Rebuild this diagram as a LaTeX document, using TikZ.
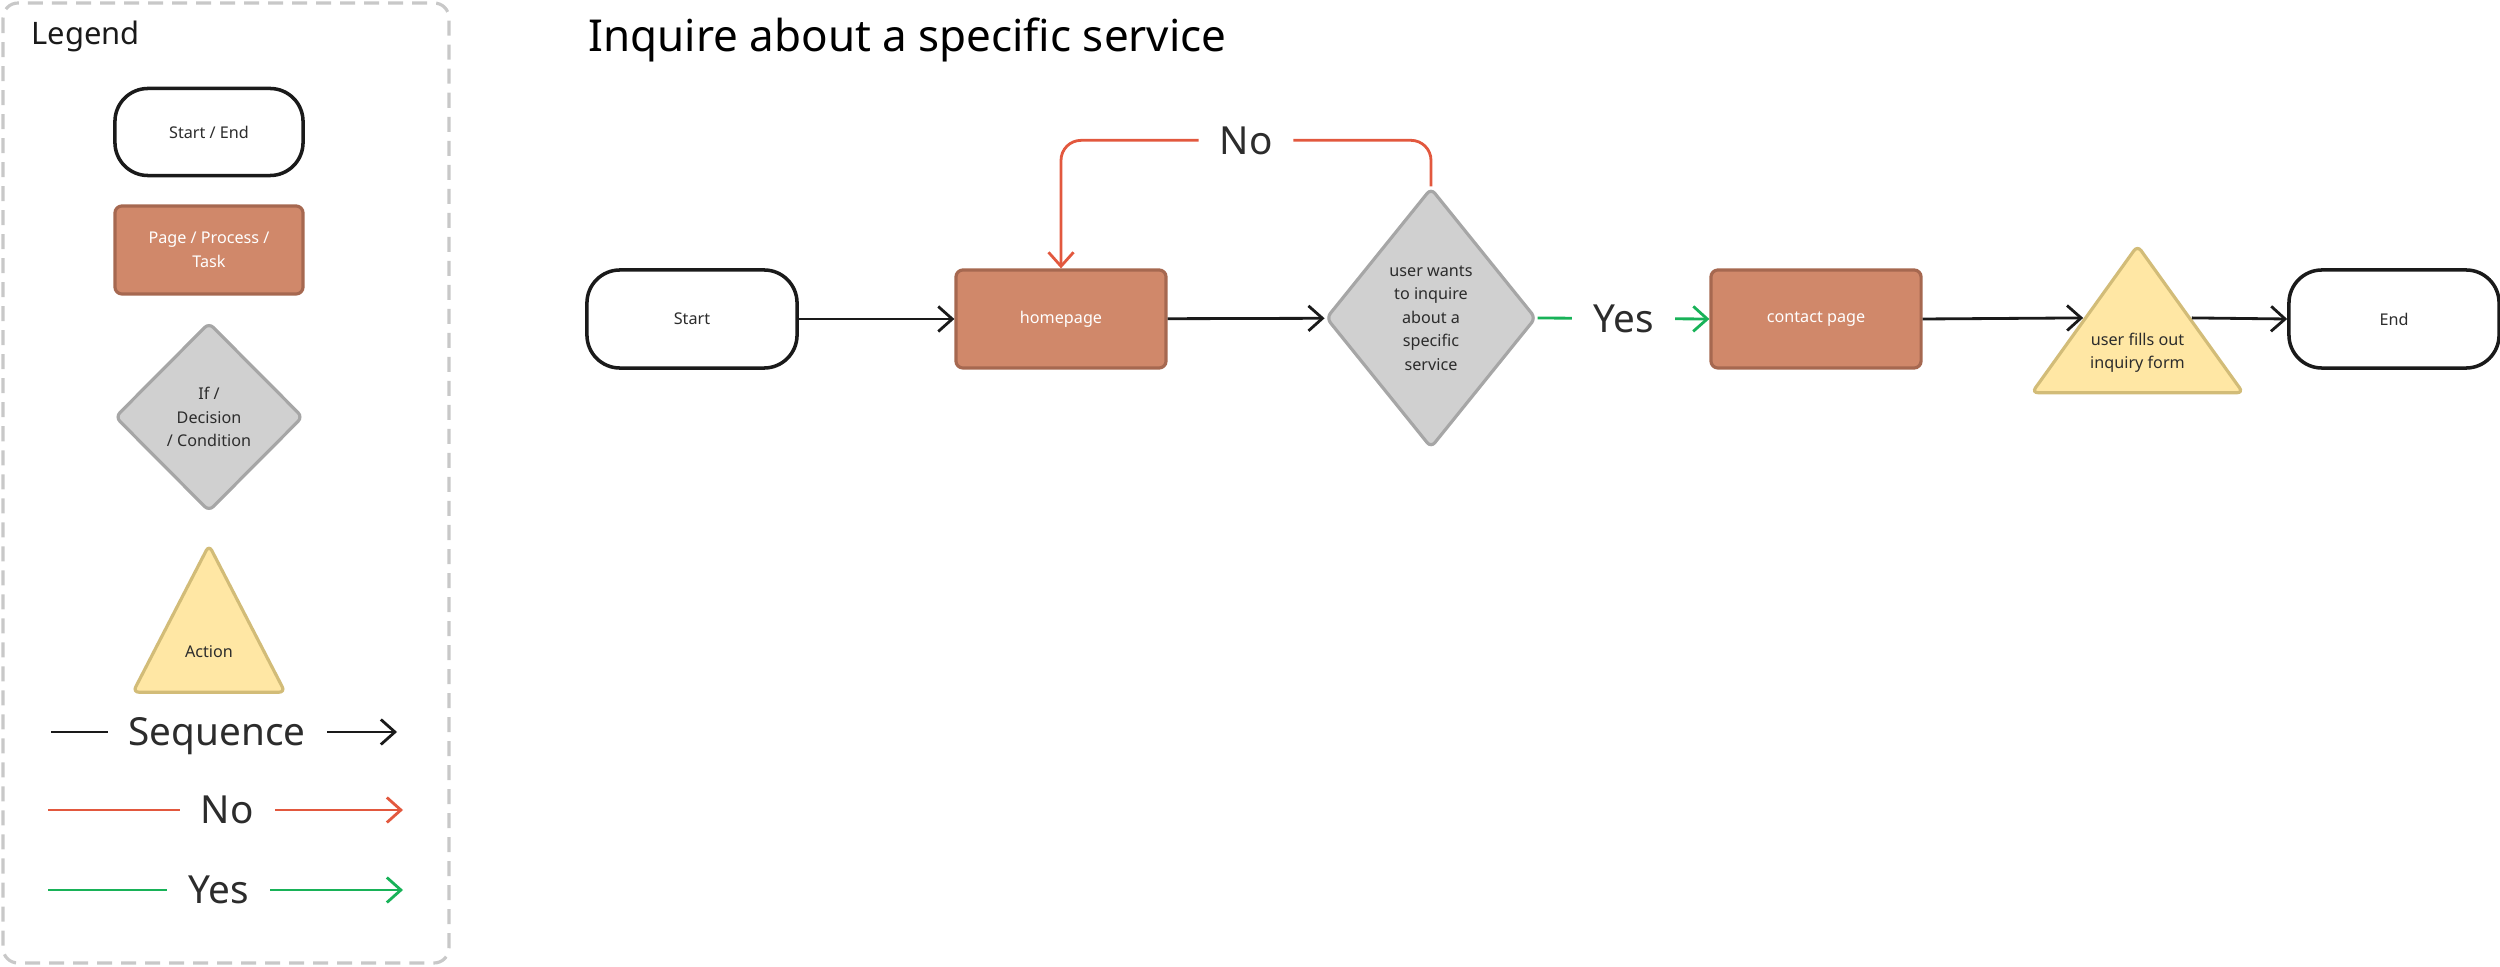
\documentclass[tikz,border=0pt]{standalone}
\usepackage{fontspec}
\setmainfont{Noto Sans}
\usetikzlibrary{arrows.meta,positioning,shapes.geometric}
\definecolor{ink}{RGB}{26,26,26}
\definecolor{textgray}{RGB}{44,44,44}
\definecolor{clay}{RGB}{208,136,106}
\definecolor{clayedge}{RGB}{166,104,80}
\definecolor{stone}{RGB}{208,208,208}
\definecolor{stoneedge}{RGB}{166,166,166}
\definecolor{sand}{RGB}{255,231,164}
\definecolor{sandedge}{RGB}{210,188,120}
\definecolor{rust}{RGB}{226,88,62}
\definecolor{leaf}{RGB}{24,178,88}
\definecolor{frame}{RGB}{200,200,200}
\newcommand{\tinyfont}{\fontsize{4.6}{6.7}\selectfont}
\newcommand{\tagfont}{\fontsize{11}{13}\selectfont}
\tikzset{
  >={Straight Barb[length=1.4mm,width=2.5mm]},
  terminal/.style={draw=ink,line width=1pt,fill=white,rounded corners=3.3mm,
    minimum width=#1,minimum height=9.8mm,font=\tinyfont,text=textgray},
  terminal/.default=2.1cm,
  process/.style={draw=clayedge,fill=clay,line width=0.9pt,rounded corners=0.7mm,
    minimum width=#1,minimum height=9.8mm,font=\tinyfont,text=white,align=center},
  process/.default=2.1cm,
  decision/.style={diamond,draw=stoneedge,fill=stone,line width=0.9pt,rounded corners=0.6mm,
    inner sep=0pt,minimum width=#1,font=\tinyfont,text=textgray,align=center},
  decision/.default=2.1cm,
  action/.style={isosceles triangle,shape border rotate=90,isosceles triangle stretches,
    draw=sandedge,fill=sand,line width=0.9pt,rounded corners=0.6mm,inner sep=0pt,
    minimum width=#1,minimum height=1.47cm,anchor=apex},
  action/.default=2.11cm,
  acttext/.style={font=\tinyfont,text=textgray,align=center},
  flow/.style={->,draw=#1,line width=0.8pt},
  flow/.default=ink,
  lbl/.style={fill=white,font=\tagfont,text=textgray,inner xsep=2.1mm,inner ysep=0.4mm,
    text height=7.9pt,text depth=0pt},
}
\begin{document}
\begin{tikzpicture}[x=0.01cm,y=-0.01cm]
  \useasboundingbox (0,0) rectangle (2500,967);
  % legend
  \draw[frame,line width=0.9pt,dash pattern=on 1.5mm off 0.9mm,rounded corners=1.5mm]
    (3,3) rectangle (449,963);
  \node[anchor=base west,font=\fontsize{8.8}{10}\selectfont,text=ink,inner sep=0pt] (legendtitle) at (31,45) {Legend};
  \node[terminal=1.88cm,minimum height=8.7mm] (lgterm) at (209,132) {Start / End};
  \node[process=1.88cm,minimum height=8.8mm] (lgproc) at (209,250) {Page / Process /\\Task};
  \node[decision=1.88cm,minimum height=1.89cm] (lgdec) at (209,417) {If /\\Decision\\/ Condition};
  \node[action=1.52cm] (lgact) at (209,541) {};
  \node[acttext] (lgacttxt) at ([yshift=-11.1mm]lgact.apex) {Action};
  \coordinate (seqa) at (51,732);  \coordinate (seqb) at (397,732);
  \coordinate (noa) at (48,810);   \coordinate (nob) at (403,810);
  \coordinate (yesa) at (48,890);  \coordinate (yesb) at (403,890);
  \draw[flow] (seqa) -- node[lbl,pos=0.48] (seqlbl) {Sequence} (seqb);
  \draw[flow=rust] (noa) -- node[lbl,pos=0.505] (nolbl) {No} (nob);
  \draw[flow=leaf] (yesa) -- node[lbl,pos=0.48] (yeslbl) {Yes} (yesb);
  % flow
  \node[anchor=base west,font=\fontsize{12.5}{14}\selectfont,text=black,inner sep=0pt] (title) at (588,52) {Inquire about a specific service};
  \node[terminal] (start) at (692,319) {Start};
  \node[process] (home) at (1061,319) {homepage};
  \node[decision,minimum height=2.6cm] (ask) at (1431,318) {user wants\\to inquire\\about a\\specific\\service};
  \node[process] (contact) at (1816,319) {contact page};
  \node[action] (form) at (2137.5,241.5) {};
  \node[acttext] (formtxt) at ([yshift=-11.1mm]form.apex) {user fills out\\inquiry form};
  \node[terminal] (end) at (2394,319) {End};
  \draw[flow] (start) -- (home);
  \draw[flow] (home) -- (ask);
  \draw[flow=rust,rounded corners=2mm] (ask.north) -- ++(0,-46) -| node[lbl,pos=0.25] (asklbl) {No} (home.north);
  \draw[flow=leaf] (ask.east) -- node[lbl] (yeslbl2) {Yes} (contact.west);
  \draw[flow] (contact.east) -- (form.left side);
  \draw[flow] (form.right side) -- (end.west);
\end{tikzpicture}
\end{document}
